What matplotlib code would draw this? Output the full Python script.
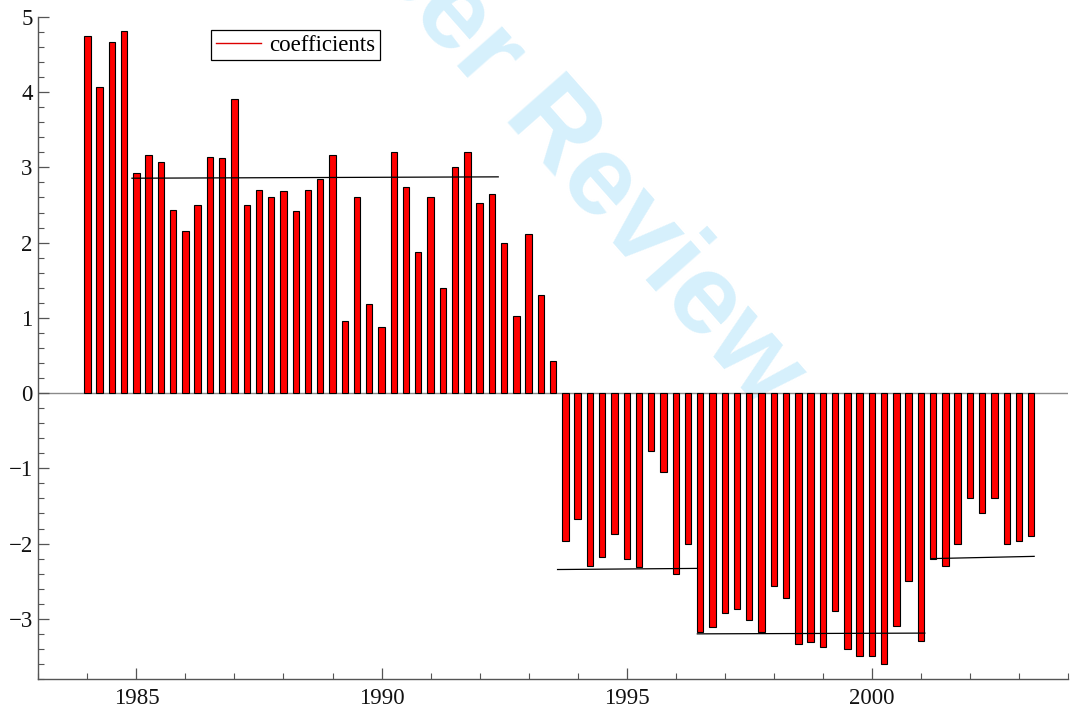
import numpy as np
import matplotlib
matplotlib.use("Agg")
import matplotlib.pyplot as plt
from matplotlib.lines import Line2D
from matplotlib.ticker import MultipleLocator

# quarterly coefficients 1984Q1 .. 2003Q2
start_year = 1984.0
pos_vals = [4.74, 4.07, 4.66, 4.81, 2.92, 3.17, 3.07, 2.44, 2.16, 2.50, 3.14, 3.12,
            3.91, 2.50, 2.70, 2.60, 2.68, 2.42, 2.70, 2.84, 3.17, 0.96, 2.61, 1.18,
            0.88, 3.21, 2.74, 1.88, 2.60, 1.40, 3.00, 3.20, 2.52, 2.64, 2.00, 1.03,
            2.12, 1.30, 0.43]
neg_vals = [-1.96, -1.67, -2.30, -2.18, -1.87, -2.20, -2.31, -0.77, -1.05, -2.41,
            -2.01, -3.17, -3.11, -2.92, -2.87, -3.01, -3.18, -2.57, -2.73, -3.34,
            -3.31, -3.38, -2.90, -3.40, -3.50, -3.50, -3.60, -3.10, -2.50, -3.30,
            -2.20, -2.30, -2.00, -1.40, -1.60, -1.40, -2.00, -1.97, -1.90]
values = pos_vals + neg_vals

# regime mean segments
seg_x0 = [1984.91, 1993.59, 1996.44, 2001.21]
seg_x1 = [1992.38, 1996.44, 2001.08, 2003.31]
seg_y0 = [2.856, -2.345, -3.20, -2.20]
seg_y1 = [2.874, -2.330, -3.19, -2.17]

legend_label = "coefficients"
watermark = "For Peer Review"

x = start_year + 0.25 * np.arange(len(values))

fig = plt.figure(figsize=(10.70, 7.08), dpi=100)
ax = fig.add_axes([38.3 / 1070, 29 / 708, 1029.7 / 1070, 662.1 / 708])

ax.text(490 / 1070, 1 - 60 / 708, watermark, transform=fig.transFigure,
        rotation=-48.6, ha="center", va="center", fontsize=82, fontweight="bold",
        family="Liberation Sans", color="#d6f0fc", zorder=0, clip_on=False)

ax.axhline(0, color="#8a8a8a", lw=1.0, zorder=1)
ax.bar(x, values, width=0.13, color="#ff0000", edgecolor="black", linewidth=0.8, zorder=2)
for a0, a1, b0, b1 in zip(seg_x0, seg_x1, seg_y0, seg_y1):
    ax.plot([a0, a1], [b0, b1], color="black", lw=0.9, zorder=3)

ax.set_xlim(1983, 2004)
ax.set_ylim(-3.8, 5)
ax.xaxis.set_major_locator(MultipleLocator(5))
ax.xaxis.set_minor_locator(MultipleLocator(1))
ax.yaxis.set_major_locator(MultipleLocator(1))
ax.yaxis.set_minor_locator(MultipleLocator(0.2))

for s in ["top", "right"]:
    ax.spines[s].set_visible(False)
for s in ["left", "bottom"]:
    ax.spines[s].set_color("#555555")
    ax.spines[s].set_linewidth(1.0)

ax.tick_params(which="major", direction="in", length=8, width=0.9, color="#555555",
               labelsize=16.5, labelcolor="#111111")
ax.tick_params(which="minor", direction="in", length=4.5, width=0.8, color="#555555")
ax.tick_params(axis="x", which="major", pad=6.5)
ax.tick_params(axis="y", which="major", pad=4)
for lab in ax.get_xticklabels() + ax.get_yticklabels():
    lab.set_family("Liberation Serif")

handle = Line2D([], [], color="#dd0000", lw=1.0)
leg = ax.legend([handle], [legend_label], loc="upper left",
                bbox_to_anchor=((211 - 38.3) / 1029.7, (679 - 30) / 662.1),
                prop={"family": "Liberation Serif", "size": 16.5}, frameon=True,
                fancybox=False, edgecolor="black", framealpha=1, borderpad=0.2,
                handlelength=2.0, handletextpad=0.35, borderaxespad=0)
leg.get_frame().set_linewidth(0.9)

fig.savefig("out.png", dpi=100)
